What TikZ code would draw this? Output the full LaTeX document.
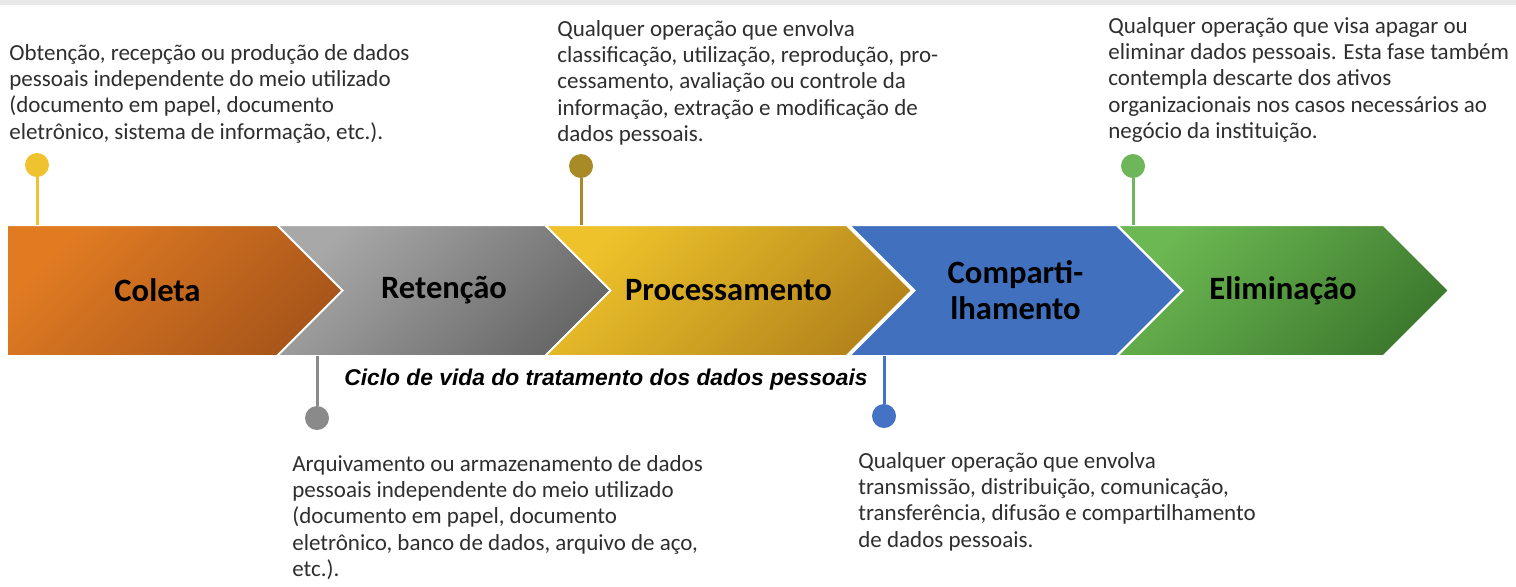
\documentclass[tikz,border=0pt]{standalone}
\usepackage{fontspec}
\setmainfont{Carlito}
\newfontfamily\legendafont{Liberation Sans}
\usetikzlibrary{shapes.symbols,positioning}

\definecolor{texto}{HTML}{2E2E2E}
\definecolor{coletaA}{HTML}{E07B22}
\definecolor{coletaB}{HTML}{A4531A}
\definecolor{retencaoA}{HTML}{A8A8A8}
\definecolor{retencaoB}{HTML}{686868}
\definecolor{procA}{HTML}{EDC22A}
\definecolor{procB}{HTML}{B5851C}
\definecolor{compart}{HTML}{4170BE}
\definecolor{elimA}{HTML}{6CB852}
\definecolor{elimB}{HTML}{3D7A2E}
\definecolor{pontoColeta}{HTML}{EFC22F}
\definecolor{pontoProc}{HTML}{A98B26}
\definecolor{pontoElim}{HTML}{6DB659}
\definecolor{pontoRet}{HTML}{8A8A8A}
\definecolor{pontoComp}{HTML}{4472C4}

\tikzset{
  fase/.style={signal, signal to=east, signal from=west, signal pointer angle=90,
    draw=white, line width=1pt, minimum height=65.5pt, inner sep=0pt, outer sep=0pt,
    align=center, font=\fontsize{16.3}{18}\selectfont\bfseries},
  degrade/.style 2 args={top color=#1, bottom color=#2, shading angle=45},
  ponto/.style={circle, fill=#1, minimum size=12pt, inner sep=0pt},
  haste/.style={draw=#1, line width=1.5pt},
  desc/.style={anchor=north west, align=left, inner sep=0pt, text=texto,
    font=\fontsize{11.5}{13.15}\selectfont},
}

\begin{document}
\begin{tikzpicture}[x=0.5pt, y=-0.5pt]
  \useasboundingbox (0,0) rectangle (1516,586);
  \fill[black!9] (0,0) rectangle (1516,5);

  % fases do ciclo
  \node[fase, degrade={coletaA}{coletaB}, signal from=nowhere, minimum width=183.5pt] (coleta) at (157.5,290.5) {Coleta};
  \node[fase, degrade={retencaoA}{retencaoB}, minimum width=167pt] (retencao) at (444,290.5) {Retenção};
  \node[fase, degrade={procA}{procB}, minimum width=183.5pt] (proc) at (728.5,290.5) {Processamento};
  \node[fase, fill=compart, minimum width=166.5pt] (comp) at (1015.5,290.5) {Comparti-\\lhamento};
  \node[fase, degrade={elimA}{elimB}, minimum width=166pt] (elim) at (1283,290.5) {Eliminação};

  \node[font=\legendafont\fontsize{11.4}{13}\selectfont\bfseries\itshape] (legenda) at (606,380) {Ciclo de vida do tratamento dos dados pessoais};

  % marcadores
  \node[ponto=pontoColeta] (pColeta) at (37,165) {};
  \node[ponto=pontoProc] (pProc) at (581,166) {};
  \node[ponto=pontoElim] (pElim) at (1133,166) {};
  \node[ponto=pontoRet] (pRet) at (317,418) {};
  \node[ponto=pontoComp] (pComp) at (884,416) {};

  \draw[haste=pontoColeta] (pColeta) -- (pColeta |- coleta.north);
  \draw[haste=pontoProc] (pProc) -- (pProc |- proc.north);
  \draw[haste=pontoElim] (pElim) -- (pElim |- elim.north);
  \draw[haste=pontoRet] (pRet) -- (pRet |- retencao.south);
  \draw[haste=pontoComp] (pComp) -- (pComp |- comp.south);

  % descricoes
  \node[desc] (dColeta) at (9,44) {Obtenção, recepção ou produção de dados\\pessoais independente do meio utilizado\\(documento em papel, documento\\eletrônico, sistema de informação, etc.).};
  \node[desc] (dProc) at (557,20) {Qualquer operação que envolva\\classificação, utilização, reprodução, pro-\\cessamento, avaliação ou controle da\\informação, extração e modificação de\\dados pessoais.};
  \node[desc] (dElim) at (1108,17) {Qualquer operação que visa apagar ou\\eliminar dados pessoais. Esta fase também\\contempla descarte dos ativos\\organizacionais nos casos necessários ao\\negócio da instituição.};
  \node[desc] (dRet) at (292,455) {Arquivamento ou armazenamento de dados\\pessoais independente do meio utilizado\\(documento em papel, documento\\eletrônico, banco de dados, arquivo de aço,\\etc.).};
  \node[desc] (dComp) at (858,452) {Qualquer operação que envolva\\transmissão, distribuição, comunicação,\\transferência, difusão e compartilhamento\\de dados pessoais.};
\end{tikzpicture}
\end{document}
